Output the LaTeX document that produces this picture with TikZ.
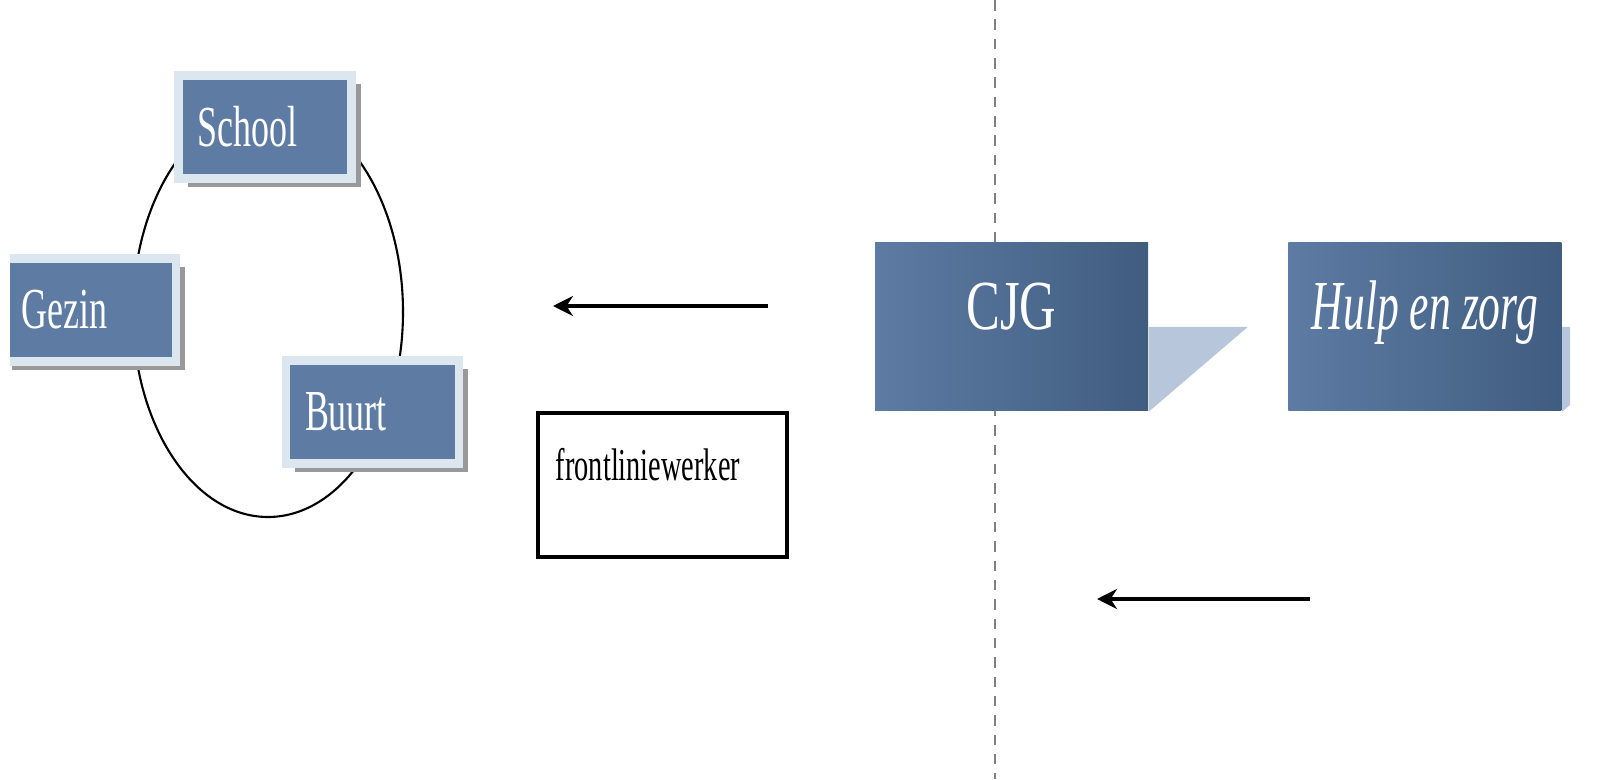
\documentclass[tikz,border=0pt]{standalone}
\usepackage{fontspec}
\setmainfont{Liberation Serif}
\newfontfamily\smalfont[FakeStretch=0.62]{Liberation Serif}
\newfontfamily\breedfont[FakeStretch=0.72]{Liberation Serif}
\usepackage{tikz}
\usetikzlibrary{arrows, arrows.meta, shadows, positioning}
\tikzset{>=stealth}

\definecolor{blokblauw}{HTML}{5D7BA3}
\definecolor{blokrand}{HTML}{DCE6EE}
\definecolor{donkerblauw}{HTML}{405D80}
\definecolor{lichtblauw}{HTML}{B7C6DA}

\tikzset{
  blok/.style={fill=blokblauw, draw=blokrand, line width=2.3pt,
    minimum width=1.73cm, minimum height=1.03cm, inner xsep=.17cm,
    text width=1.35cm, align=left, text=white,
    font=\smalfont\fontsize{16.5}{18}\selectfont,
    drop shadow={shadow xshift=.09cm, shadow yshift=-.09cm, fill=black!40, opacity=1}},
  grootblok/.style={left color=blokblauw, right color=donkerblauw,
    minimum width=2.73cm, minimum height=1.68cm, text=white,
    font=\breedfont\fontsize{20}{22}\selectfont, text height=.45cm, text depth=.4cm},
  pijl/.style={-{Stealth[length=2mm,width=2mm]}, very thick}
}

\begin{document}
\begin{tikzpicture}
        \useasboundingbox (0,0) rectangle (16.22,7.79);
        \clip (0.1,0) rectangle (15.70,7.79);

        % scheidslijn
        \coordinate (boven) at (9.95,7.79);
        \coordinate (onder) at (9.95,0);
        \draw [dashed, black!50, line width=.8pt, dash pattern=on 3pt off 2.5pt] (boven)--(onder);

        % kring rond het kind
        \draw [semithick] (2.68,4.67) ellipse (1.35 and 2.05);
        \node [blok] (school) at (2.65,6.52) {School};
        \node [blok] (gezin) at (0.895,4.69) {Gezin};
        \node [blok] (buurt) at (3.725,3.67) {Buurt};

        % frontliniewerker
        \coordinate (p1a) at (7.68,4.73);
        \coordinate (p1b) at (5.53,4.73);
        \draw [pijl] (p1a)--(p1b);
        \node [draw, line width=1pt, minimum width=2.49cm, minimum height=1.44cm] (fw) at (6.625,2.94) {};
        \node [anchor=base west, inner sep=0, font=\smalfont\fontsize{13}{15}\selectfont] (fwtekst)
              at ([xshift=.19cm, yshift=-.69cm]fw.north west) {frontliniewerker};

        % CJG en hulp
        \node [grootblok] (cjg) at (10.115,4.52) {CJG};
        \node [grootblok, right=1.39cm of cjg, font=\smalfont\itshape\fontsize{20}{22}\selectfont] (hulp) {Hulp en zorg};
        \fill [lichtblauw] (cjg.east) -- ++(.99,0) -- (cjg.south east) -- cycle;
        \fill [lichtblauw] (hulp.east) -- ++(.99,0) -- (hulp.south east) -- cycle;

        \coordinate (p2a) at (13.10,1.80);
        \coordinate (p2b) at (10.97,1.80);
        \draw [pijl] (p2a)--(p2b);
\end{tikzpicture}
\end{document}
